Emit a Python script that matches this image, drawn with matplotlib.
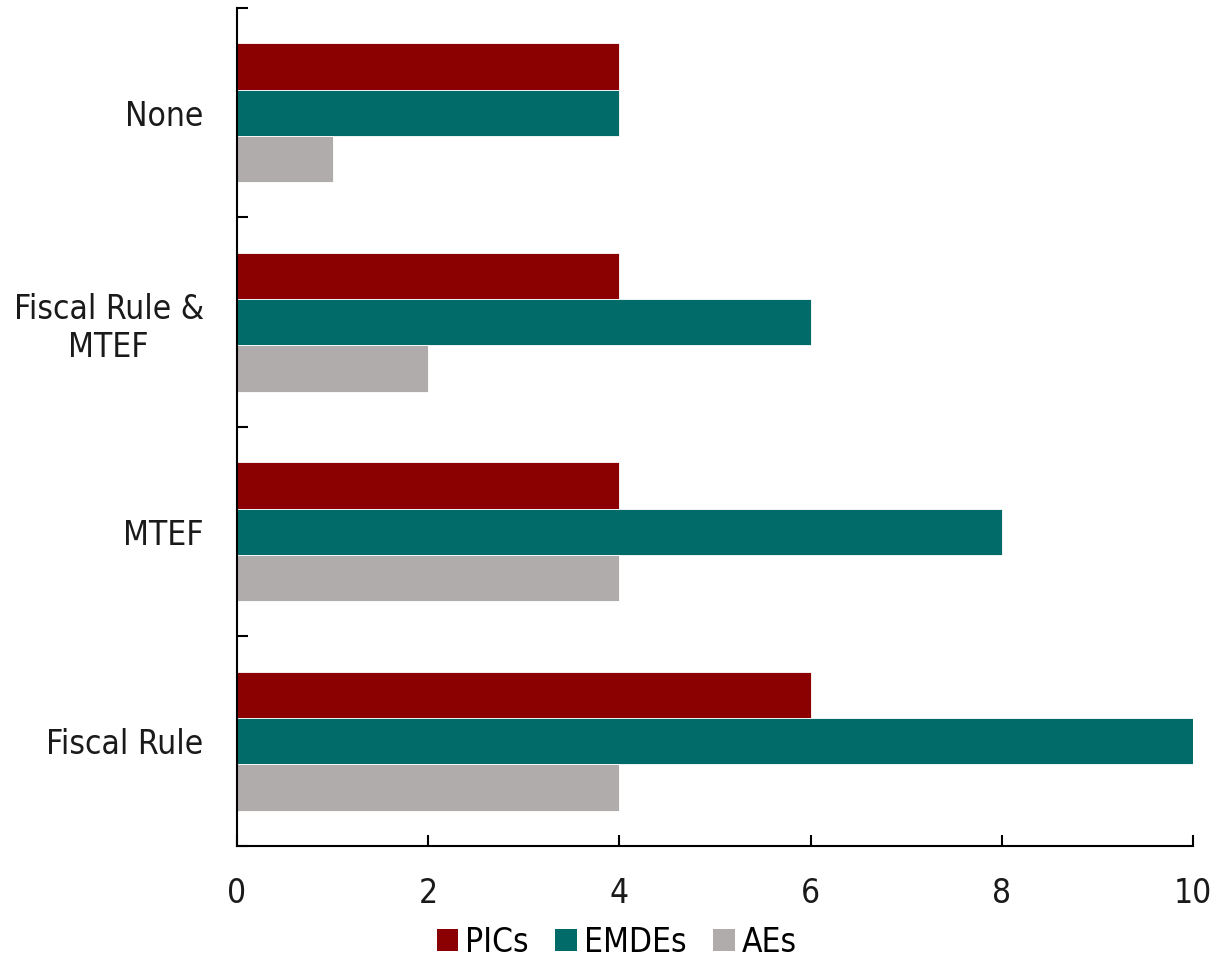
import numpy as np
import matplotlib.pyplot as plt
from matplotlib.patches import Patch

plt.rcParams['font.family'] = ['DejaVu Sans']
plt.rcParams['font.stretch'] = 'condensed'

categories = ['Fiscal Rule', 'MTEF', 'Fiscal Rule &\nMTEF', 'None']
series = ['PICs', 'EMDEs', 'AEs']
pics = [6, 4, 4, 4]
emdes = [10, 8, 6, 4]
aes = [4, 4, 2, 1]
colors = ['#8b0000', '#006b68', '#b0acab']
x_ticks = [0, 2, 4, 6, 8, 10]

fig = plt.figure(figsize=(12.26, 9.6), dpi=100)
ax = fig.add_axes([0.1933, 0.1188, 0.7798, 0.8729])

# three bars per category, PICs on top
y = np.arange(len(categories))
h = 0.221
for i, (vals, c) in enumerate(zip([pics, emdes, aes], colors)):
    ax.barh(y + (1 - i) * h, vals, height=h, color=c, edgecolor='white',
            linewidth=0.6)

ax.set_xlim(0, 10)
ax.set_ylim(-0.5, 3.5)
ax.set_xticks(x_ticks)
ax.set_xticklabels([str(t) for t in x_ticks], fontsize=24, color='#1a1a1a')
ax.set_yticks(y)
ax.set_yticklabels(categories, fontsize=24, color='#1a1a1a',
                   multialignment='center')
ax.set_yticks(np.arange(-0.5, 3.6, 1), minor=True)

ax.tick_params(axis='x', direction='in', length=8, width=1.5, pad=22)
ax.tick_params(axis='y', which='major', length=0, pad=24)
ax.tick_params(axis='y', which='minor', direction='in', length=8, width=1.5)

for s in ['top', 'right']:
    ax.spines[s].set_visible(False)
for s in ['left', 'bottom']:
    ax.spines[s].set_linewidth(1.5)

handles = [Patch(facecolor=c, label=s) for c, s in zip(colors, series)]
fig.legend(handles=handles, loc='lower center', bbox_to_anchor=(0.503, -0.03),
           ncol=3, frameon=False, fontsize=24, handlelength=0.65,
           handleheight=0.65, handletextpad=0.2, columnspacing=0.8)

fig.savefig('out.png', dpi=100)
